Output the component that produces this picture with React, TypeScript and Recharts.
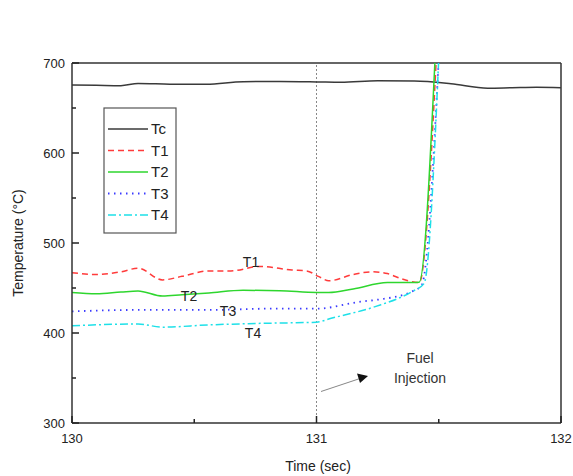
import React from "react";
import {
  LineChart,
  Line,
  XAxis,
  YAxis,
  ReferenceLine,
} from "recharts";

// time (sec) / temperature (°C)
const tcTime = [130, 130.1, 130.2, 130.27, 130.4, 130.55, 130.7, 130.85, 131.0, 131.1, 131.25, 131.4, 131.55, 131.7, 131.8, 131.9, 132];
const tcTemp = [675.6, 675.2, 674.8, 677.2, 676.5, 676.3, 679.3, 679.5, 679, 678.5, 680.2, 680, 677, 672, 672.5, 673, 672.6];

const t1Time = [130, 130.1, 130.2, 130.27, 130.37, 130.45, 130.56, 130.65, 130.77, 130.9, 130.96, 131.01, 131.05, 131.15, 131.23, 131.29, 131.35, 131.42, 131.49];
const t1Temp = [467, 465, 468, 472, 459, 463, 469, 469, 474, 470, 469, 462.6, 458, 465, 468, 466, 460, 456, 705];

const t2Time = [130, 130.1, 130.2, 130.27, 130.37, 130.45, 130.56, 130.7, 130.85, 131.0, 131.05, 131.15, 131.29, 131.39, 131.42, 131.485];
const t2Temp = [445, 443.5, 445.5, 446.7, 441, 442.5, 444.5, 447.4, 447, 445, 445, 449, 456, 456, 456.5, 705];

const t3Time = [130, 130.25, 130.56, 130.8, 131.0, 131.18, 131.25, 131.39, 131.43, 131.5];
const t3Temp = [424, 425.6, 425.6, 427, 427, 434.8, 437, 446, 453, 705];

const t4Time = [130, 130.27, 130.37, 130.56, 130.77, 131.0, 131.06, 131.24, 131.39, 131.44, 131.5];
const t4Temp = [408, 410, 406.5, 409, 410.7, 412, 416.3, 429.3, 446, 455, 705];

const xTicks = [130, 130.5, 131, 131.5, 132];
const yTicks = [300, 350, 400, 450, 500, 550, 600, 650, 700];
const injectionTime = 131;

const zip = (ts: number[], vs: number[]) => ts.map((t, i) => ({ t, v: vs[i] }));
const tcData = zip(tcTime, tcTemp);
const t1Data = zip(t1Time, t1Temp);
const t2Data = zip(t2Time, t2Temp);
const t3Data = zip(t3Time, t3Temp);
const t4Data = zip(t4Time, t4Temp);

const FONT = "'Liberation Sans', Arial, sans-serif";

const series = [
  { name: "Tc", data: tcData, color: "#3a3a3a", dash: undefined, width: 1.5 },
  { name: "T1", data: t1Data, color: "#ff3b3b", dash: "6 4", width: 1.5 },
  { name: "T2", data: t2Data, color: "#2ed62e", dash: undefined, width: 1.5 },
  { name: "T3", data: t3Data, color: "#3a3aff", dash: "1.5 4.5", width: 1.8 },
  { name: "T4", data: t4Data, color: "#1ee0e8", dash: "8 3 2 3", width: 1.5 },
];

const X0 = 130;
const X1 = 132;
const Y0 = 300;
const Y1 = 700;

// plot box (chart margins + axis sizes)
const W = 573;
const H = 476;
const M = { top: 63, right: 12, bottom: 23, left: 12 };
const Y_AXIS_W = 60;
const X_AXIS_H = 30;
const plotL = M.left + Y_AXIS_W;
const plotR = W - M.right;
const plotT = M.top;
const plotB = H - M.bottom - X_AXIS_H;
const px = (t: number) => plotL + ((t - X0) / (X1 - X0)) * (plotR - plotL);
const py = (v: number) => plotB - ((v - Y0) / (Y1 - Y0)) * (plotB - plotT);

const YTick = (props: any) => {
  const { x, y, payload } = props;
  if (payload.value % 100 !== 0) return <g />;
  return (
    <text x={Number(x) - 7} y={y} dy={5} textAnchor="end" fontSize={13} fill="#222" fontFamily={FONT}>
      {payload.value}
    </text>
  );
};

const XTick = (props: any) => {
  const { x, y, payload } = props;
  if (!Number.isInteger(payload.value)) return <g />;
  return (
    <text x={x} y={y} dy={20} textAnchor="middle" fontSize={13} fill="#222" fontFamily={FONT}>
      {payload.value}
    </text>
  );
};

export default function App() {
  return (
    <div style={{ position: "absolute", left: 0, top: 0, width: W, height: H, background: "#fff", fontFamily: FONT }}>
      <LineChart width={W} height={H} margin={M} style={{ fontFamily: FONT }}>
        <XAxis
          dataKey="t"
          type="number"
          domain={[X0, X1]}
          ticks={xTicks}
          allowDataOverflow
          height={X_AXIS_H}
          tickSize={0}
          tickMargin={0}
          tickLine={false}
          tick={<XTick />}
          axisLine={{ stroke: "#333", strokeWidth: 1.5 }}
        />
        <YAxis
          type="number"
          domain={[Y0, Y1]}
          ticks={yTicks}
          allowDataOverflow
          width={Y_AXIS_W}
          tickSize={0}
          tickMargin={0}
          tickLine={false}
          tick={<YTick />}
          axisLine={{ stroke: "#333", strokeWidth: 1.5 }}
        />
        <ReferenceLine y={Y1} stroke="#333" strokeWidth={1.5} />
        <ReferenceLine x={X1} stroke="#333" strokeWidth={1.5} />
        <ReferenceLine x={injectionTime} stroke="#888" strokeDasharray="2 2" />
        {series.map((s) => (
          <Line
            key={s.name}
            data={s.data}
            dataKey="v"
            name={s.name}
            type="monotone"
            stroke={s.color}
            strokeWidth={s.width}
            strokeDasharray={s.dash}
            dot={false}
            isAnimationActive={false}
          />
        ))}
      </LineChart>

      <svg
        width={W}
        height={H}
        style={{ position: "absolute", left: 0, top: 0, pointerEvents: "none" }}
        fontFamily={FONT}
      >
        {/* inward tick marks */}
        {yTicks.map((v) => (
          <line
            key={"yt" + v}
            x1={plotL}
            x2={plotL + (v % 100 === 0 ? 7 : 4)}
            y1={py(v)}
            y2={py(v)}
            stroke="#222"
            strokeWidth={1.5}
          />
        ))}
        {xTicks.map((t) => (
          <line
            key={"xt" + t}
            x1={px(t)}
            x2={px(t)}
            y1={plotB}
            y2={plotB - (Number.isInteger(t) ? 7 : 4)}
            stroke="#222"
            strokeWidth={1.5}
          />
        ))}

        {/* legend */}
        <rect x={104} y={108} width={72} height={125} fill="#fff" stroke="#555" strokeWidth={1.2} />
        {series.map((s, i) => {
          const y = 129 + i * 21.5;
          return (
            <g key={s.name}>
              <line x1={108} x2={148} y1={y} y2={y} stroke={s.color} strokeWidth={s.width} strokeDasharray={s.dash} />
              <text x={151} y={y + 5} fontSize={15} fill="#222">{s.name}</text>
            </g>
          );
        })}

        {/* inline curve labels */}
        <text x={251} y={267} fontSize={14} textAnchor="middle" fill="#222">T1</text>
        <text x={189} y={301} fontSize={14} textAnchor="middle" fill="#222">T2</text>
        <text x={228} y={316} fontSize={14} textAnchor="middle" fill="#222">T3</text>
        <text x={253} y={338} fontSize={14} textAnchor="middle" fill="#222">T4</text>

        {/* fuel injection annotation */}
        <text x={420} y={363} fontSize={14} textAnchor="middle" fill="#333">Fuel</text>
        <text x={420} y={383} fontSize={14} textAnchor="middle" fill="#333">Injection</text>
        <line x1={321} y1={391.5} x2={360} y2={378.5} stroke="#888" strokeWidth={1} />
        <polygon points="368,376 357,373.5 360,383" fill="#111" />

        {/* axis titles */}
        <text x={318} y={471} fontSize={14} textAnchor="middle" fill="#222">Time (sec)</text>
        <text
          x={0}
          y={0}
          fontSize={14}
          textAnchor="middle"
          fill="#222"
          transform="translate(23,243) rotate(-90)"
        >
          Temperature (°C)
        </text>
      </svg>
    </div>
  );
}
